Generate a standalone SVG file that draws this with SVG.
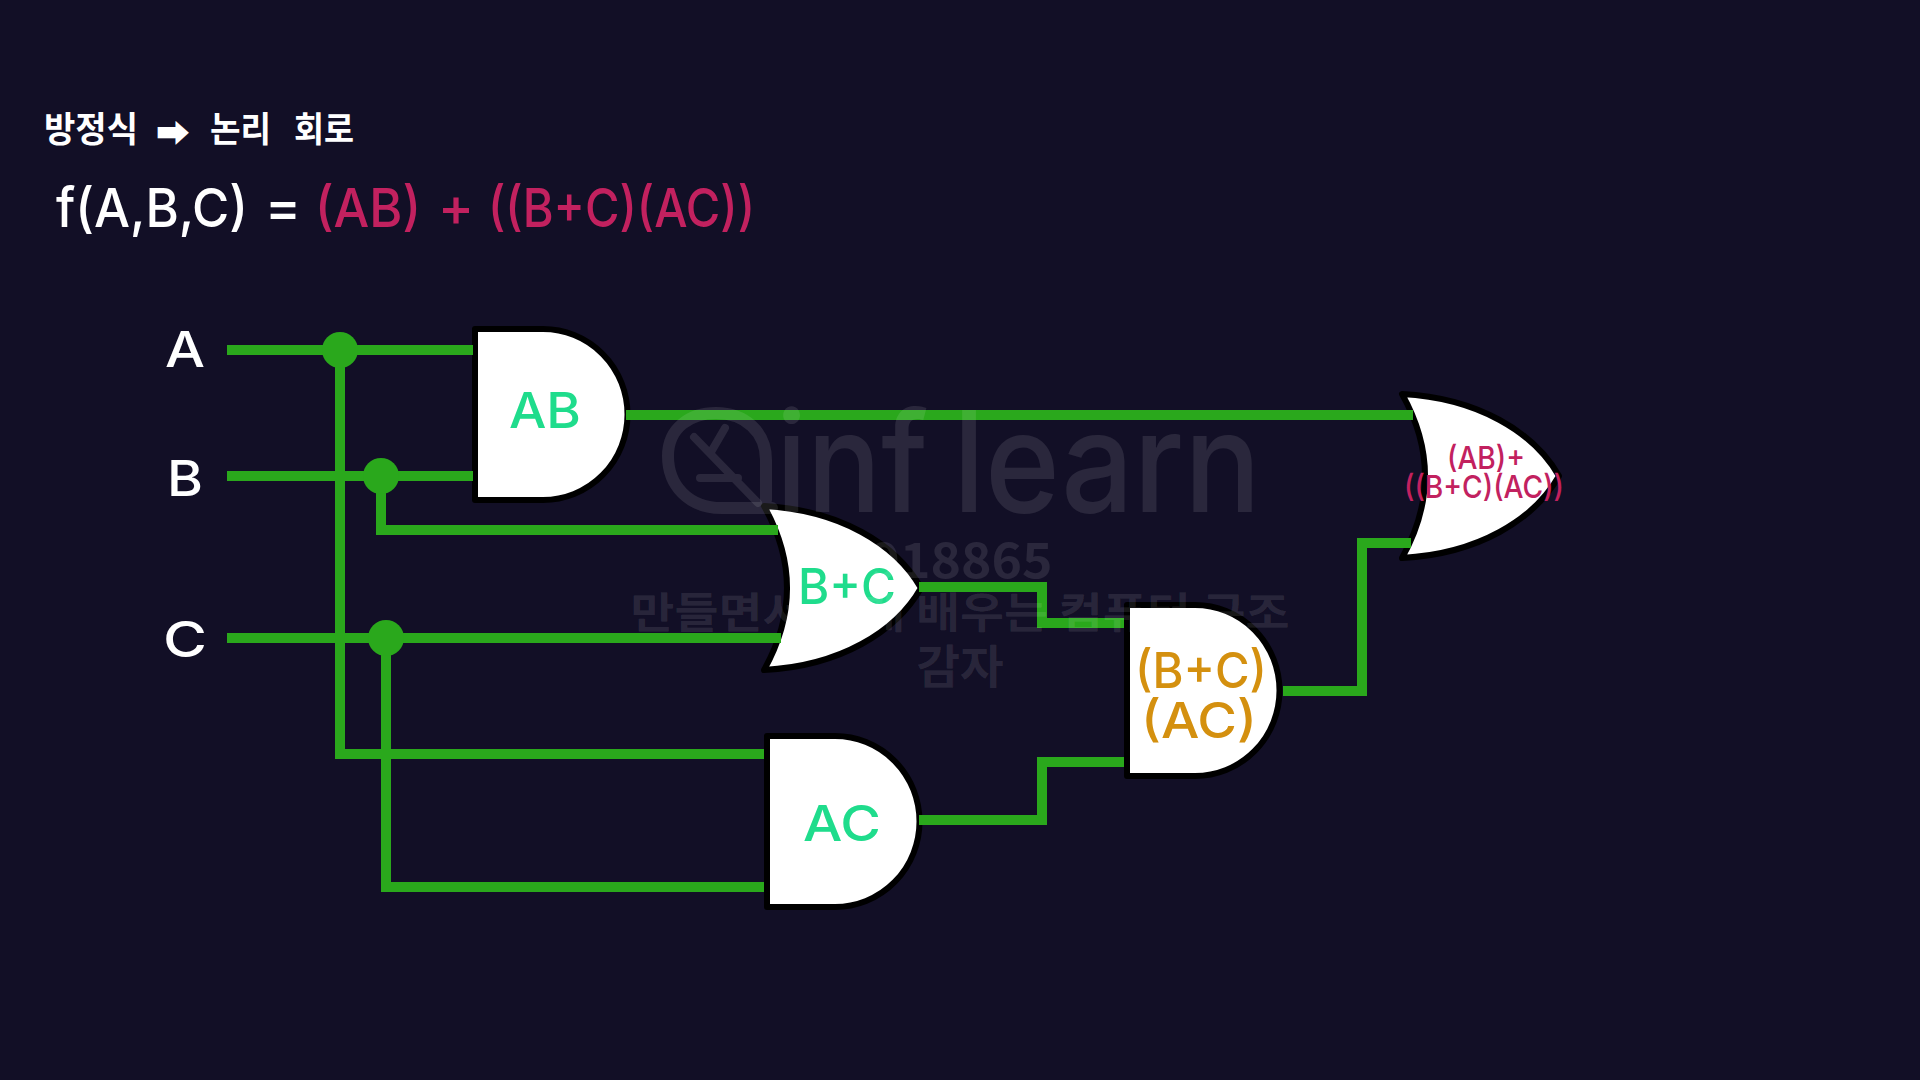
<svg xmlns="http://www.w3.org/2000/svg" width="1920" height="1080" viewBox="0 0 1920 1080">
<defs>
<style>
.t{font-family:"Inter","Noto Sans CJK KR",sans-serif;font-weight:500}
.k{font-family:"Noto Sans CJK KR","DejaVu Sans",sans-serif;font-weight:700}
.w{fill:none;stroke:#2aa81c;stroke-width:10}
.d{fill:#2aa81c}
.g{fill:#fff;stroke:#000;stroke-width:6;stroke-linejoin:round}
.wm{fill:#fff;fill-opacity:.1}
.ws{fill:none;stroke:#fff;stroke-opacity:.1;stroke-width:12;stroke-linecap:round}
.wi{stroke-width:8}
</style>
<path id="andShape" d="M475,329H543A84.5,85.5 0 0 1 543,500H475Z"/>
<path id="orShape" d="M1402,394C1478,398 1534,432 1559,476C1534,520 1478,554 1402,558Q1448,476 1402,394Z"/>
</defs>
<rect width="1920" height="1080" fill="#120f26"/>
<g id="title">
<text class="k" x="44" y="142" font-size="35" fill="#fff" textLength="94" lengthAdjust="spacingAndGlyphs">방정식</text>
<text class="k" x="156" y="146" font-size="34" fill="#fff" textLength="34" lengthAdjust="spacingAndGlyphs">➡</text>
<text class="k" x="210" y="142" font-size="35" fill="#fff" textLength="61" lengthAdjust="spacingAndGlyphs">논리</text>
<text class="k" x="294" y="142" font-size="35" fill="#fff" textLength="60" lengthAdjust="spacingAndGlyphs">회로</text>
</g>
<g id="formula" font-size="54">
<text class="t" x="56" y="227" fill="#fff" textLength="192" lengthAdjust="spacingAndGlyphs">f(A,B,C)</text>
<text class="t" x="265" y="226" fill="#fff">=</text>
<text class="t" x="315" y="227" fill="#c2215f" textLength="106" lengthAdjust="spacingAndGlyphs">(AB)</text>
<text class="t" x="438" y="226" fill="#c2215f">+</text>
<text class="t" x="488" y="227" fill="#c2215f" textLength="267" lengthAdjust="spacingAndGlyphs">((B+C)(AC))</text>
</g>
<g id="input-a"><text class="t" x="185" y="367" font-size="50" fill="#fff" text-anchor="middle" textLength="40" lengthAdjust="spacingAndGlyphs">A</text></g>
<g id="input-b"><text class="t" x="185" y="496" font-size="50" fill="#fff" text-anchor="middle" textLength="36" lengthAdjust="spacingAndGlyphs">B</text></g>
<g id="input-c"><text class="t" x="185" y="657" font-size="50" fill="#fff" text-anchor="middle" textLength="44" lengthAdjust="spacingAndGlyphs">C</text></g>
<g id="gate-ab">
<use href="#andShape" class="g"/>
<text class="t" x="545" y="428" font-size="50" fill="#1fdc8c" text-anchor="middle" textLength="72" lengthAdjust="spacingAndGlyphs">AB</text>
</g>
<g id="gate-b-or-c">
<use href="#orShape" class="g" transform="translate(-638,112)"/>
<text class="t" x="847" y="604" font-size="50" fill="#1fdc8c" text-anchor="middle" textLength="98" lengthAdjust="spacingAndGlyphs">B+C</text>
</g>
<g id="gate-ac">
<use href="#andShape" class="g" transform="translate(292,407)"/>
<text class="t" x="842" y="841" font-size="50" fill="#1fdc8c" text-anchor="middle" textLength="78" lengthAdjust="spacingAndGlyphs">AC</text>
</g>
<g id="gate-bc-ac">
<use href="#andShape" class="g" transform="translate(652,276)"/>
<text class="t" x="1201" y="688" font-size="50" fill="#d4900f" text-anchor="middle" textLength="132" lengthAdjust="spacingAndGlyphs">(B+C)</text>
<text class="t" x="1199" y="738" font-size="50" fill="#d4900f" text-anchor="middle" textLength="116" lengthAdjust="spacingAndGlyphs">(AC)</text>
</g>
<g id="gate-final">
<use href="#orShape" class="g"/>
<text class="t" x="1486" y="469" font-size="31" fill="#c2215f" text-anchor="middle" textLength="78" lengthAdjust="spacingAndGlyphs">(AB)+</text>
<text class="t" x="1484" y="498" font-size="31" fill="#c2215f" text-anchor="middle" textLength="160" lengthAdjust="spacingAndGlyphs">((B+C)(AC))</text>
</g>
<g id="connectors">
<path class="w" d="M227,350H473"/>
<path class="w" d="M340,350V754H764"/>
<path class="w" d="M227,476H473"/>
<path class="w" d="M381,476V530H778"/>
<path class="w" d="M227,638H781"/>
<path class="w" d="M386,638V887H764"/>
<path class="w" d="M626,415H1413"/>
<path class="w" d="M919,587H1042V623H1124"/>
<path class="w" d="M919,820H1042V762H1124"/>
<path class="w" d="M1283,691H1362V543H1411"/>
<circle class="d" cx="340" cy="350" r="18"/>
<circle class="d" cx="381" cy="476" r="18"/>
<circle class="d" cx="386" cy="638" r="18"/>
</g>
<g id="watermark">
<path class="ws" d="M772,508H722C688,508 668,485 668,456C668,428 690,413 716,413C745,413 766,432 766,460V500"/>
<path class="ws wi" d="M694,437L758,503M725,428L711,452M700,478H738"/>
<text class="t wm" x="776" y="512" font-size="140" textLength="152" lengthAdjust="spacingAndGlyphs">inf</text>
<text class="t wm" x="953" y="512" font-size="140" textLength="308" lengthAdjust="spacingAndGlyphs">learn</text>
<text class="k wm" x="961" y="578" font-size="48" text-anchor="middle" textLength="183" lengthAdjust="spacingAndGlyphs">918865</text>
<text class="k wm" x="960" y="628" font-size="42" text-anchor="middle" textLength="659" lengthAdjust="spacingAndGlyphs">만들면서 쉽게 배우는 컴퓨터 구조</text>
<text class="k wm" x="960" y="683" font-size="46" text-anchor="middle" textLength="87" lengthAdjust="spacingAndGlyphs">감자</text>
</g>
</svg>
